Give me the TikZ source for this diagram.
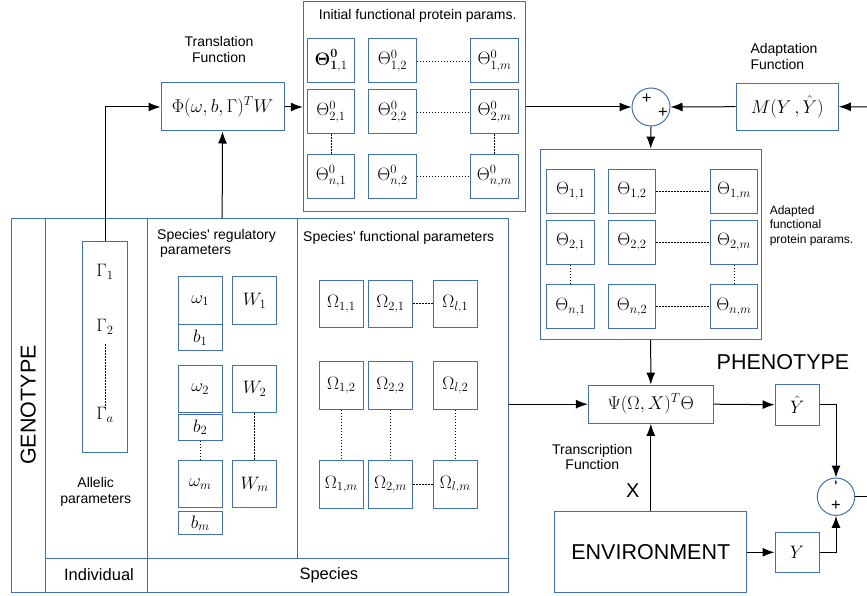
\RequirePackage{fix-cm}
\documentclass[tikz,border=0pt]{standalone}
\usepackage{amsmath}
\usepackage[no-math]{fontspec}
\setmainfont{Liberation Sans}
\usetikzlibrary{arrows.meta}
\definecolor{boxblue}{RGB}{65,113,180}

\begin{document}
\begin{tikzpicture}[x=1pt,y=-1pt,line width=1pt,
  >={Latex[length=12pt,width=9pt]},
  blk/.style={draw=boxblue,inner sep=0pt},
  mth/.style={font=\fontsize{18}{20}\selectfont},
  cell/.style={blk,mth,minimum width=47.5pt,minimum height=44pt},
  ocell/.style={blk,mth,minimum width=44pt,minimum height=47.5pt},
  bcell/.style={blk,mth,minimum width=44pt,minimum height=26pt},
  lbl/.style={font=\fontsize{14}{15.5}\selectfont,align=center,inner sep=0pt},
  big/.style={font=\fontsize{21.5}{24}\selectfont,inner sep=0pt},
  mid/.style={font=\fontsize{16.5}{18}\selectfont,inner sep=0pt},
  dotl/.style={line width=0.8pt,dash pattern=on 1.5pt off 1.5pt},
  conn/.style={->,draw=black}]
\useasboundingbox (0,0) rectangle (867,596);

% genotype frame
\draw[boxblue] (11,218.3) rectangle (508.3,592);
\draw[boxblue] (45.7,218.3) -- (45.7,592);
\draw[boxblue] (147.3,218.3) -- (147.3,592);
\draw[boxblue] (45.7,558.3) -- (508.3,558.3);
\node[blk,minimum width=149.7pt,minimum height=340pt] (regul) at (222.15,388.3) {};
\node[blk,minimum width=211.3pt,minimum height=340pt] (func) at (402.65,388.3) {};
\node[big,rotate=90] (genotxt) at (28.3,405) {GENOTYPE};
\node[mid] (indtxt) at (99,575) {Individual};
\node[mid,anchor=west] (spectxt) at (299,575) {Species};

% allelic parameters
\node[blk,minimum width=44.6pt,minimum height=210.6pt] (gam) at (105,347) {};
\node[mth] (g1) at (105,271.7) {$\Gamma_1$};
\node[mth] (g2) at (105,326.7) {$\Gamma_2$};
\node[mth] (ga) at (105,415) {$\Gamma_a$};
\draw[dotl,line width=0.6pt] (g2.south) ++(0,6) -- ([yshift=-6]ga.north);
\node[lbl] (alleltxt) at (95.7,491.7) {Allelic\\parameters};

% regulatory parameters
\node[lbl,align=left,anchor=west] (regtxt) at (156.7,243.3) {Species\textquotesingle{} regulatory\\\hspace{3pt}parameters};
\node[ocell] (om1) at (200.3,300.5) {$\omega_1$};
\node[bcell] (b1) at (200.3,337.7) {$b_1$};
\node[ocell] (w1) at (254.6,300.5) {$W_1$};
\node[ocell] (om2) at (200.3,388.8) {$\omega_2$};
\node[bcell] (b2) at (200.3,427.3) {$b_2$};
\node[ocell] (w2) at (254.6,389) {$W_2$};
\node[ocell] (omm) at (200.3,484.2) {$\omega_m$};
\node[bcell,minimum height=23.3pt] (bm) at (200.3,523.3) {$b_m$};
\node[ocell] (wm) at (254.6,484.2) {$W_m$};
\draw[dotl] (b2.south) -- (omm.north);
\draw[dotl] (w2.south) -- (wm.north);

% functional parameters
\node[lbl,anchor=west] (functxt) at (302.7,238.3) {Species\textquotesingle{} functional parameters};
\node[ocell] (o11) at (341.3,303.8) {$\Omega_{1,1}$};
\node[ocell] (o21) at (390.5,303.8) {$\Omega_{2,1}$};
\node[ocell] (ol1) at (455.3,303.8) {$\Omega_{l,1}$};
\node[ocell] (o12) at (341.3,385.5) {$\Omega_{1,2}$};
\node[ocell] (o22) at (390.5,385.5) {$\Omega_{2,2}$};
\node[ocell] (ol2) at (455.3,385.5) {$\Omega_{l,2}$};
\node[ocell] (o1m) at (341.3,484.5) {$\Omega_{1,m}$};
\node[ocell] (o2m) at (390.5,484.5) {$\Omega_{2,m}$};
\node[ocell] (olm) at (455.3,484.5) {$\Omega_{l,m}$};
\draw[dotl] (o21.east) -- (ol1.west);
\draw[dotl] (o2m.east) -- (olm.west);
\draw[dotl] (o12.south) -- (o1m.north);
\draw[dotl] (o22.south) -- (o2m.north);
\draw[dotl] (ol2.south) -- (olm.north);

% translation
\node[blk,minimum width=123pt,minimum height=48pt,font=\fontsize{18.5}{20}\selectfont] (transl) at (222.5,107) {$\Phi(\omega,b,\Gamma)^{T}W$};
\node[lbl] (transltxt) at (219,49.5) {Translation\\Function};
\draw[conn] (gam.north) |- (transl.west);
\draw[conn] (regul.north) -- (transl.south);

% initial params
\node[blk,minimum width=222pt,minimum height=210pt] (init) at (414.3,107) {};
\node[lbl] (inittxt) at (417.7,16) {Initial functional protein params.};
\node[cell] (i11) at (331,61) {$\boldsymbol{\Theta}^{\mathbf{0}}_{\mathbf{1},1}$};
\node[cell] (i12) at (392.5,61) {$\Theta^0_{1,2}$};
\node[cell] (i1m) at (494.5,61) {$\Theta^0_{1,m}$};
\node[cell] (i21) at (331,112) {$\Theta^0_{2,1}$};
\node[cell] (i22) at (392.5,112) {$\Theta^0_{2,2}$};
\node[cell] (i2m) at (494.5,112) {$\Theta^0_{2,m}$};
\node[cell] (in1) at (331,176.5) {$\Theta^0_{n,1}$};
\node[cell] (in2) at (392.5,176.5) {$\Theta^0_{n,2}$};
\node[cell] (inm) at (494.5,176.5) {$\Theta^0_{n,m}$};
\draw[dotl] (i12.east) -- (i1m.west);
\draw[dotl] (i22.east) -- (i2m.west);
\draw[dotl] (in2.east) -- (inm.west);
\draw[dotl] (i21.south) -- (in1.north);
\draw[dotl] (i2m.south) -- (inm.north);
\draw[conn] (transl.east) -- (init.west);

% adaptation
\node[circle,draw=boxblue,minimum size=38pt,inner sep=0pt] (sum1) at (651,107) {};
\node[mid] (p1) at (646.7,99) {+};
\node[mid] (p2) at (663,113) {+};
\node[blk,minimum width=102.3pt,minimum height=46.7pt,font=\fontsize{18.5}{20}\selectfont] (madapt) at (787.2,106.7) {$M(Y\,,\hat{Y})$};
\node[lbl,align=left,anchor=west] (adapttxt) at (750,56.5) {Adaptation\\Function};
\coordinate (rin) at (867,107);
\draw[conn] (rin) -- (madapt.east);
\draw[conn] (madapt.west) -- (sum1.east);
\draw[conn] (init.east) -- (sum1.west);

% adapted params
\node[blk,minimum width=221.3pt,minimum height=190.3pt] (adapt) at (650.7,244.2) {};
\node[cell] (a11) at (570.7,191.3) {$\Theta_{1,1}$};
\node[cell] (a12) at (632,191.3) {$\Theta_{1,2}$};
\node[cell] (a1m) at (734,191.3) {$\Theta_{1,m}$};
\node[cell] (a21) at (570.7,242) {$\Theta_{2,1}$};
\node[cell] (a22) at (632,242) {$\Theta_{2,2}$};
\node[cell] (a2m) at (734,242) {$\Theta_{2,m}$};
\node[cell] (an1) at (570.7,306.8) {$\Theta_{n,1}$};
\node[cell] (an2) at (632,306.8) {$\Theta_{n,2}$};
\node[cell] (anm) at (734,306.8) {$\Theta_{n,m}$};
\draw[dotl] (a12.east) -- (a1m.west);
\draw[dotl] (a22.east) -- (a2m.west);
\draw[dotl] (an2.east) -- (anm.west);
\draw[dotl] (a21.south) -- (an1.north);
\draw[dotl] (a2m.south) -- (anm.north);
\node[font=\fontsize{12}{14.5}\selectfont,align=left,anchor=west,inner sep=0pt] (adapttxt2) at (769.3,225.5) {Adapted\\functional\\protein params.};
\draw[conn] (sum1.south) -- (adapt.north);

% phenotype
\node[big] (pheno) at (783,361.7) {PHENOTYPE};
\node[blk,minimum width=125pt,minimum height=38.3pt,font=\fontsize{18.5}{20}\selectfont] (psi) at (650.8,404.2) {$\Psi(\Omega,X)^{T}\Theta$};
\node[blk,mth,minimum width=44.3pt,minimum height=40.7pt] (yhat) at (797.2,404.7) {$\hat{Y}$};
\node[circle,draw=boxblue,minimum size=37.4pt,inner sep=0pt] (sum2) at (836,496.7) {};
\node[mid] (m2) at (836,486.7) {\textquotesingle};
\node[mid] (p3) at (836,505.7) {+};
\node[blk,big,minimum width=191.7pt,minimum height=81.3pt] (env) at (650.8,552.3) {ENVIRONMENT};
\node[blk,mth,minimum width=44pt,minimum height=40pt] (ybox) at (797,552.3) {$Y$};
\node[lbl] (transtxt) at (592.3,457) {Transcription\\Function};
\node[font=\fontsize{20}{22}\selectfont,inner sep=0pt] (xlab) at (632.7,490.7) {X};
\coordinate (rout) at (867,496.7);
\draw[conn] (adapt.south) -- (psi.north);
\draw[conn] (func.east |- psi.west) -- (psi.west);
\draw[conn] (psi.east) -- (yhat.west);
\draw[conn] (yhat.east) -| (sum2.north);
\draw[conn] (env.north) -- (psi.south);
\draw[conn] (env.east) -- (ybox.west);
\draw[conn] (ybox.east) -| (sum2.south);
\draw (sum2.east) -- (rout);
\end{tikzpicture}
\end{document}
